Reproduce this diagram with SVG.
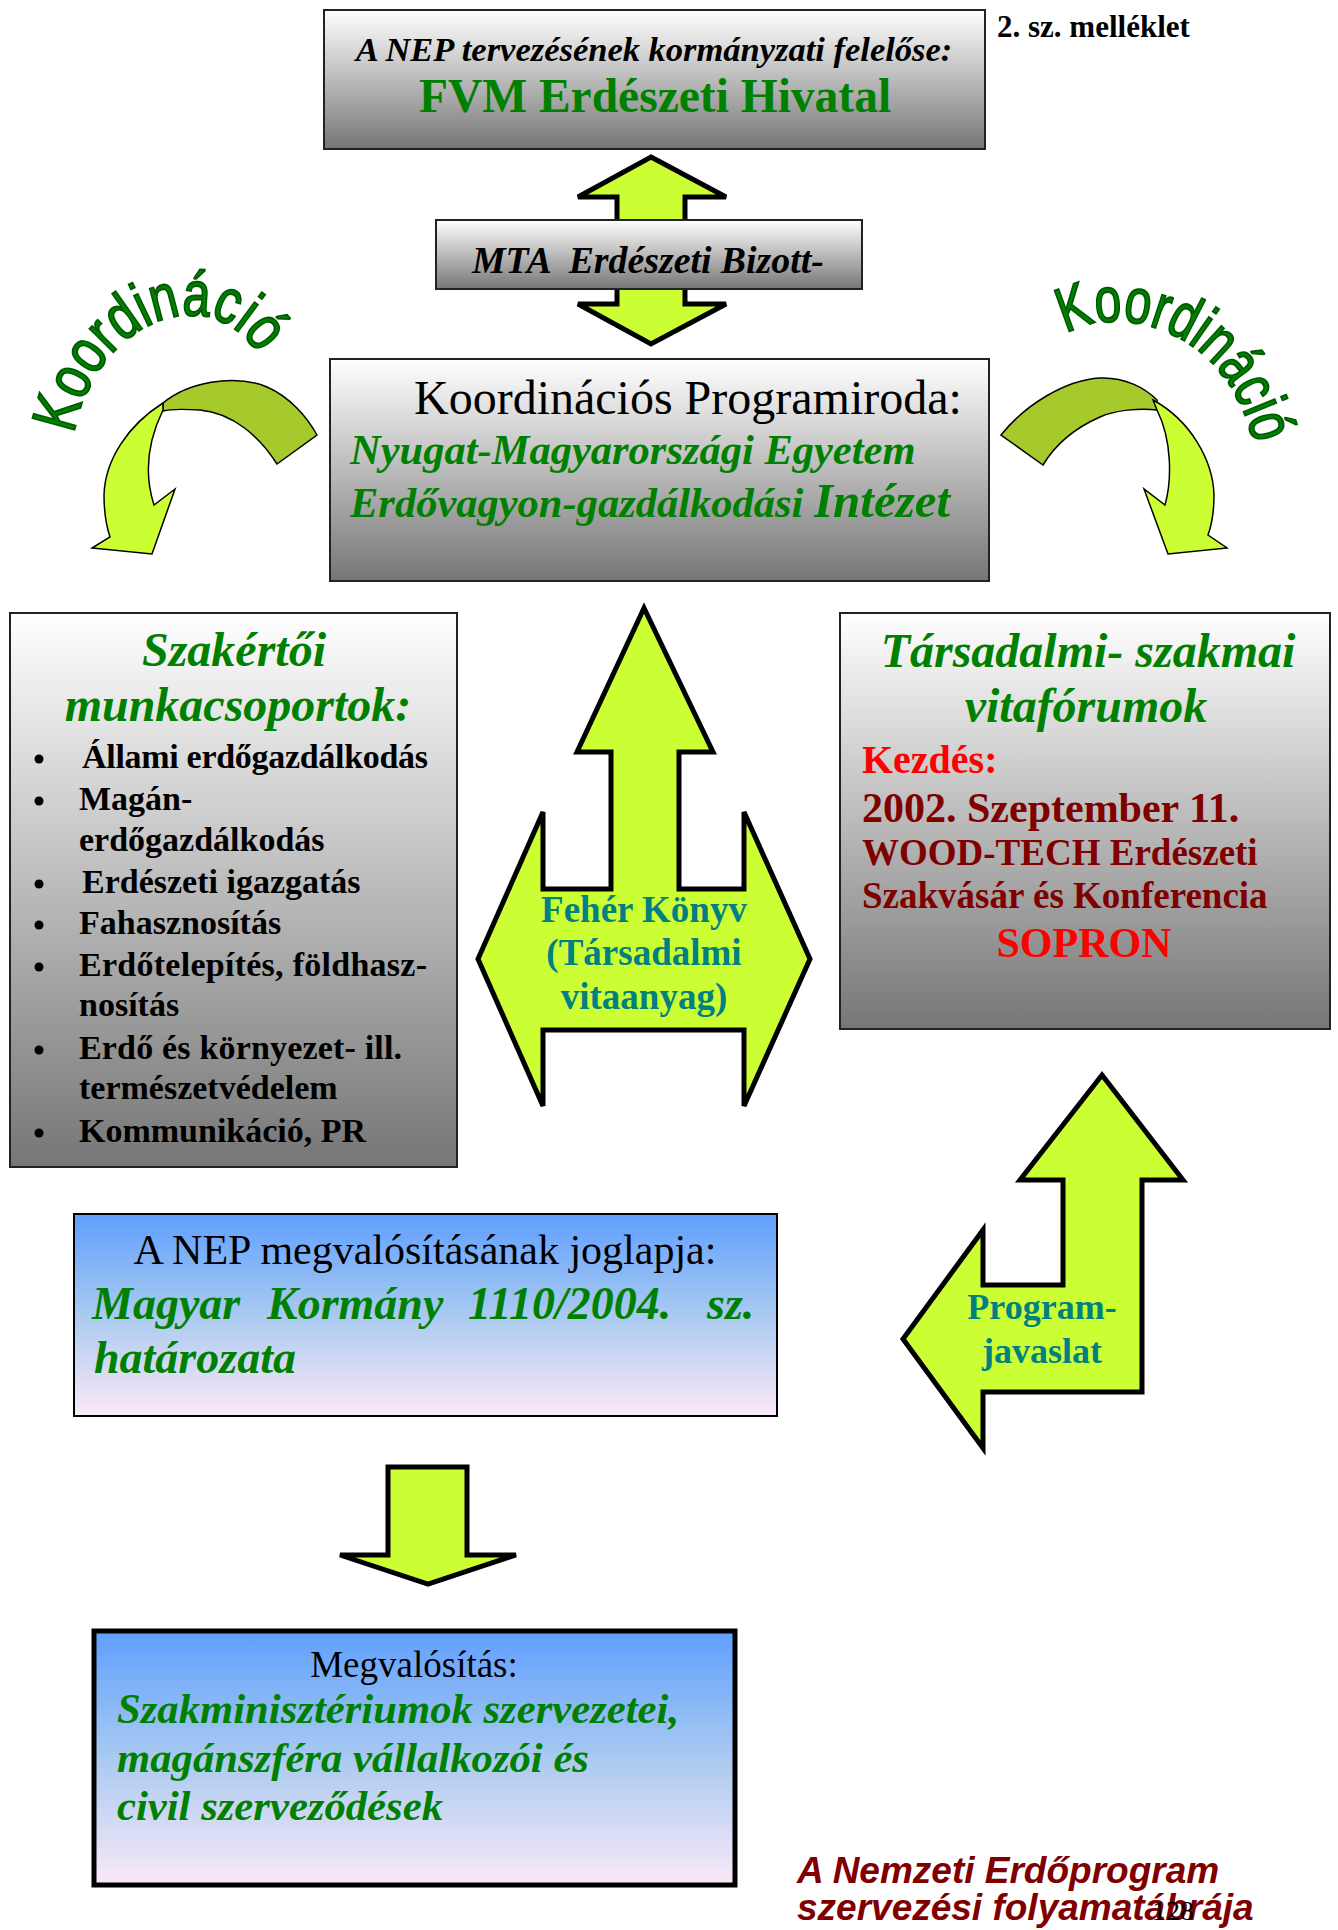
<svg xmlns="http://www.w3.org/2000/svg" xmlns:xlink="http://www.w3.org/1999/xlink" width="1338" height="1930" viewBox="0 0 1338 1930">
<defs>
<linearGradient id="gray" x1="0" y1="0" x2="0" y2="1"><stop offset="0" stop-color="#ffffff"/><stop offset="1" stop-color="#767676"/></linearGradient>
<linearGradient id="blue" x1="0" y1="0" x2="0" y2="1"><stop offset="0" stop-color="#5f9ffe"/><stop offset="0.5" stop-color="#a9caf0"/><stop offset="1" stop-color="#fbe9f8"/></linearGradient>
<path id="arcL" d="M74,434 C96,316 215,276 262,360"/>
<path id="arcR" d="M1066,334 C1120,302 1228,328 1254,445"/>
</defs>
<style>
.serif{font-family:"Liberation Serif","Times New Roman",serif}
.sans{font-family:"Liberation Sans",Arial,sans-serif}
.b{font-weight:bold}
.bi{font-weight:bold;font-style:italic}
.green{fill:#008000}
.teal{fill:#008080}
.red{fill:#ff0000}
.dred{fill:#800000}
.gbox{fill:url(#gray);stroke:#222;stroke-width:2}
.bbox{fill:url(#blue);stroke:#000}
.arrow{fill:#ccff33;stroke:#000;stroke-width:5;stroke-linejoin:miter}
.carrow{fill:#ccff33;stroke:#000;stroke-width:1.5}
.cband{fill:#a6ca2b;stroke:#000;stroke-width:1.5}
.koord{font-family:"Liberation Sans",Arial,sans-serif;font-size:63px;fill:#008000;stroke:#005a00;stroke-width:2}
.mid{text-anchor:middle}
</style>

<g id="connectors">
<path id="arrow-top" class="arrow" d="M651,157 L726,197 L685,197 L685,304 L726,304 L651,344 L578,304 L617,304 L617,197 L578,197 Z"/>
<path id="arrow-feher" class="arrow" d="M644,608 L713,752 L679,752 L679,889 L744,889 L744,812 L810,959 L744,1106 L744,1030 L543,1030 L543,1106 L478,959 L543,812 L543,889 L611,889 L611,752 L577,752 Z"/>
<path id="arrow-program" class="arrow" d="M1102,1075 L1183,1180 L1142,1180 L1142,1392 L983,1392 L983,1448 L903,1339 L983,1230 L983,1285 L1063,1285 L1063,1180 L1020,1180 Z"/>
<path id="arrow-down" class="arrow" d="M388,1467 L467,1467 L467,1555 L516,1555 L428,1584 L340,1555 L388,1555 Z"/>
<g id="curved-left">
<path class="cband" d="M163,403 C187,383 233,373 267,387 C290,397 307,417 317,435 L277,464 C260,437 233,413 200,410 C183,409 170,409 163,411 Z"/>
<path class="carrow" d="M163,403 C128,425 105,460 104,495 C104,512 106,525 110,537 L92,548 L152,554 L175,489 L154,505 C146,480 145,447 163,410 Z"/>
</g>
<g id="curved-right">
<path class="cband" d="M1001,435 C1025,405 1065,380 1100,378 C1125,377 1145,388 1157,400 L1157,410 C1140,408 1115,410 1100,417 C1075,428 1055,445 1043,465 Z"/>
<path class="carrow" d="M1153,400 C1190,420 1213,460 1214,495 C1214,512 1212,524 1208,535 L1227,548 L1168,554 L1144,489 L1165,505 C1172,480 1172,440 1157,410 Z"/>
</g>
</g>

<g id="node-fvm">
<rect class="gbox" x="324" y="10" width="661" height="139"/>
<text class="serif bi mid" x="654" y="61" font-size="34.5">A NEP tervezésének kormányzati felelőse:</text>
<text class="serif b mid green" x="655" y="112" font-size="47.5">FVM Erdészeti Hivatal</text>
</g>

<g id="node-melleklet">
<text class="serif b" x="997" y="37" font-size="31">2. sz. melléklet</text>
</g>

<g id="node-mta">
<rect class="gbox" x="436" y="220" width="426" height="69"/>
<text class="serif bi" x="472" y="273" font-size="37.8" style="white-space:pre">MTA  Erdészeti Bizott-</text>
</g>

<g id="node-koord-left">
<text class="koord"><textPath xlink:href="#arcL" href="#arcL" textLength="262" lengthAdjust="spacingAndGlyphs">Koordináció</textPath></text>
</g>
<g id="node-koord-right">
<text class="koord"><textPath xlink:href="#arcR" href="#arcR" textLength="252" lengthAdjust="spacingAndGlyphs">Koordináció</textPath></text>
</g>

<g id="node-programiroda">
<rect class="gbox" x="330" y="359" width="659" height="222"/>
<text class="serif" x="414" y="414" font-size="48">Koordinációs Programiroda:</text>
<text class="serif bi green" x="350" y="464" font-size="42.5">Nyugat-Magyarországi Egyetem</text>
<text class="serif bi green" x="350" y="517" font-size="42.5">Erdővagyon-gazdálkodási <tspan font-size="49">Intézet</tspan></text>
</g>

<g id="node-szakertoi">
<rect class="gbox" x="10" y="613" width="447" height="554"/>
<text class="serif bi green mid" x="234" y="666" font-size="48">Szakértői</text>
<text class="serif bi green mid" x="238" y="721" font-size="48">munkacsoportok:</text>
<g fill="#000">
<circle cx="39" cy="759" r="4.5"/><circle cx="39" cy="801" r="4.5"/><circle cx="39" cy="884" r="4.5"/><circle cx="39" cy="925" r="4.5"/><circle cx="39" cy="967" r="4.5"/><circle cx="39" cy="1050" r="4.5"/><circle cx="39" cy="1133" r="4.5"/>
</g>
<g class="serif b" font-size="34">
<text x="82" y="768" textLength="346">Állami erdőgazdálkodás</text>
<text x="79" y="810">Magán-</text>
<text x="79" y="851">erdőgazdálkodás</text>
<text x="82" y="893">Erdészeti igazgatás</text>
<text x="79" y="934">Fahasznosítás</text>
<text x="79" y="976" textLength="348">Erdőtelepítés, földhasz-</text>
<text x="79" y="1016">nosítás</text>
<text x="79" y="1059" textLength="323">Erdő és környezet- ill.</text>
<text x="79" y="1099">természetvédelem</text>
<text x="79" y="1142">Kommunikáció, PR</text>
</g>
</g>

<g id="node-feher">
<text class="serif b teal mid" x="644" y="922" font-size="37">Fehér Könyv</text>
<text class="serif b teal mid" x="644" y="965" font-size="37">(Társadalmi</text>
<text class="serif b teal mid" x="644" y="1009" font-size="37">vitaanyag)</text>
</g>

<g id="node-tarsadalmi">
<rect class="gbox" x="840" y="613" width="490" height="416"/>
<text class="serif bi green mid" x="1088" y="667" font-size="48">Társadalmi- szakmai</text>
<text class="serif bi green mid" x="1086" y="722" font-size="48">vitafórumok</text>
<text class="serif b red" x="862" y="773" font-size="40">Kezdés:</text>
<text class="serif b dred" x="862" y="822" font-size="42">2002. Szeptember 11.</text>
<text class="serif b dred" x="862" y="865" font-size="37">WOOD-TECH Erdészeti</text>
<text class="serif b dred" x="862" y="908" font-size="37">Szakvásár és Konferencia</text>
<text class="serif b red mid" x="1084" y="957" font-size="42">SOPRON</text>
</g>

<g id="node-program">
<text class="serif b teal mid" x="1042" y="1319" font-size="36">Program-</text>
<text class="serif b teal mid" x="1042" y="1363" font-size="36">javaslat</text>
</g>

<g id="node-joglap">
<rect class="bbox" x="74" y="1214" width="703" height="202" stroke-width="2"/>
<text class="serif mid" x="425" y="1264" font-size="42">A NEP megvalósításának joglapja:</text>
<text class="serif bi green" y="1319" font-size="46"><tspan x="92">Magyar</tspan><tspan x="267">Kormány</tspan><tspan x="468">1110/2004.</tspan><tspan x="707">sz.</tspan></text>
<text class="serif bi green" x="94" y="1373" font-size="46">határozata</text>
</g>

<g id="node-megvalositas">
<rect class="bbox" x="94" y="1631" width="641" height="254" stroke-width="5"/>
<text class="serif mid" x="414" y="1677" font-size="37">Megvalósítás:</text>
<text class="serif bi green" x="117" y="1723" font-size="42.7">Szakminisztériumok szervezetei,</text>
<text class="serif bi green" x="117" y="1772" font-size="42.7">magánszféra vállalkozói és</text>
<text class="serif bi green" x="117" y="1820" font-size="42.7">civil szerveződések</text>
</g>

<g id="node-caption">
<text class="sans bi dred" x="797" y="1883" font-size="37">A Nemzeti Erdőprogram</text>
<text class="sans bi dred" x="797" y="1920" font-size="37">szervezési folyamatábrája</text>
<text class="serif" x="1152" y="1920" font-size="28" fill="#000">128</text>
</g>
</svg>
